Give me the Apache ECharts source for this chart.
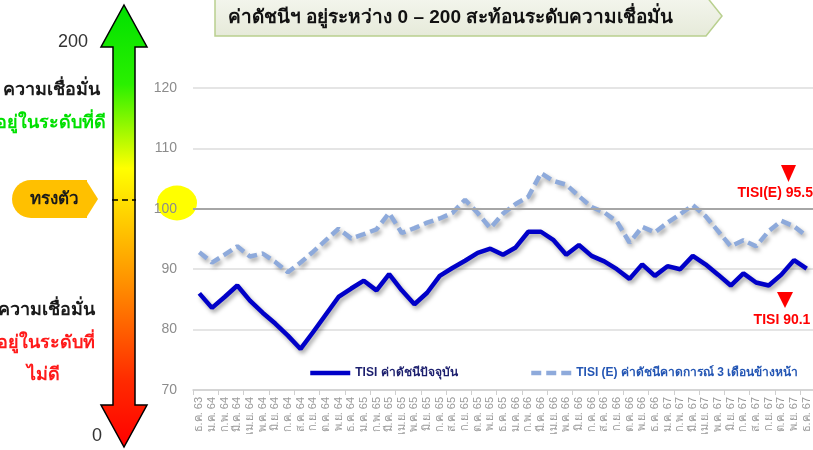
<!DOCTYPE html>
<html>
<head>
<meta charset="utf-8">
<script src="https://cdn.jsdelivr.net/npm/echarts@6/dist/echarts.min.js"></script>
<style>
  html, body { margin: 0; padding: 0; background: #fff; }
  #chart { width: 813px; height: 450px; }
</style>
</head>
<body>
<div id="chart"></div>
<script>
// แกน X : เดือน ธ.ค. 63 - ธ.ค. 67
const months = [
  'ธ.ค. 63',
  'ม.ค. 64', 'ก.พ. 64', 'มี.ค. 64', 'เม.ย. 64', 'พ.ค. 64', 'มิ.ย. 64', 'ก.ค. 64', 'ส.ค. 64', 'ก.ย. 64', 'ต.ค. 64', 'พ.ย. 64', 'ธ.ค. 64',
  'ม.ค. 65', 'ก.พ. 65', 'มี.ค. 65', 'เม.ย. 65', 'พ.ค. 65', 'มิ.ย. 65', 'ก.ค. 65', 'ส.ค. 65', 'ก.ย. 65', 'ต.ค. 65', 'พ.ย. 65', 'ธ.ค. 65',
  'ม.ค. 66', 'ก.พ. 66', 'มี.ค. 66', 'เม.ย. 66', 'พ.ค. 66', 'มิ.ย. 66', 'ก.ค. 66', 'ส.ค. 66', 'ก.ย. 66', 'ต.ค. 66', 'พ.ย. 66', 'ธ.ค. 66',
  'ม.ค. 67', 'ก.พ. 67', 'มี.ค. 67', 'เม.ย. 67', 'พ.ค. 67', 'มิ.ย. 67', 'ก.ค. 67', 'ส.ค. 67', 'ก.ย. 67', 'ต.ค. 67', 'พ.ย. 67', 'ธ.ค. 67'
];
// ดัชนีปัจจุบัน
const tisi = [
  86.0, 83.6, 85.4, 87.3, 84.8, 82.8, 81.0, 79.0, 76.8, 79.6, 82.5, 85.4,
  86.8, 88.1, 86.5, 89.2, 86.5, 84.2, 86.1, 88.9, 90.2, 91.4, 92.7, 93.4,
  92.4, 93.6, 96.2, 96.2, 94.8, 92.4, 94.0, 92.2, 91.3, 90.0, 88.4, 90.8,
  88.9, 90.5, 90.0, 92.2, 90.8, 89.1, 87.3, 89.3, 87.8, 87.3, 89.1, 91.5,
  90.1
];
// ดัชนีคาดการณ์ 3 เดือนข้างหน้า
const tisiE = [
  92.8, 91.1, 92.4, 93.8, 92.1, 92.6, 91.2, 89.5, 91.1, 92.9, 94.8, 96.7,
  95.1, 95.8, 96.6, 99.3, 96.0, 96.8, 97.7, 98.4, 99.3, 101.5, 99.3, 96.8,
  99.2, 100.8, 102.0, 105.9, 104.6, 104.0, 102.1, 100.3, 99.4, 97.9, 94.4, 97.0,
  96.1, 97.7, 99.1, 100.6, 98.8, 96.3, 93.8, 94.8, 93.8, 96.3, 98.0, 97.1,
  95.5
];
const yTicks = [70, 80, 90, 100, 110, 120];
const neutralLevel = 100;
const seriesNames = ['TISI ค่าดัชนีปัจจุบัน', 'TISI (E) ค่าดัชนีคาดการณ์ 3 เดือนข้างหน้า'];
const latestText = ['TISI 90.1', 'TISI(E) 95.5'];

const narrow = "'Liberation Sans Narrow', 'Arial Narrow', 'Liberation Sans', sans-serif";
const plain = "'Liberation Sans', Arial, sans-serif";

const chart = echarts.init(document.getElementById('chart'));

const lineShadow = {
  shadowColor: 'rgba(0,0,0,0.35)',
  shadowBlur: 4,
  shadowOffsetX: 2,
  shadowOffsetY: 3
};

const arrowFill = new echarts.graphic.LinearGradient(0, 0, 0, 1, [
  {offset: 0, color: '#00e000'},
  {offset: 0.18, color: '#2af000'},
  {offset: 0.37, color: '#ffff00'},
  {offset: 0.62, color: '#ff9400'},
  {offset: 0.85, color: '#ff2a00'},
  {offset: 1, color: '#ff0000'}
]);

// ตำแหน่ง legend สองชุดแยกกัน
const legendBase = {
  itemWidth: 40, itemHeight: 4, itemGap: 6,
  itemStyle: {opacity: 0},
  lineStyle: {width: 4.5}
};

const option = {
  backgroundColor: '#fff',
  animation: false,
  grid: {left: 193, top: 88, width: 621.5, height: 302, containLabel: false},
  legend: [
    Object.assign({}, legendBase, {
      data: [seriesNames[0]],
      left: 303, top: 362,
      textStyle: {fontFamily: narrow, fontSize: 12, fontWeight: 'bold', color: '#1c1f6e'}
    }),
    Object.assign({}, legendBase, {
      data: [seriesNames[1]],
      left: 524, top: 362,
      textStyle: {fontFamily: narrow, fontSize: 12, fontWeight: 'bold', color: '#2456b4'}
    })
  ],
  xAxis: {
    type: 'category',
    data: months,
    boundaryGap: true,
    axisLine: {lineStyle: {color: '#cfcfcf', width: 1.5}},
    axisTick: {show: true, interval: 1, length: 5, lineStyle: {color: '#cfcfcf'}},
    axisLabel: {
      interval: 0, rotate: 90, fontSize: 11, color: '#9a9a9a',
      fontFamily: plain, margin: 7
    },
    splitLine: {show: false}
  },
  yAxis: {
    type: 'value',
    min: yTicks[0],
    max: yTicks[yTicks.length - 1],
    interval: 10,
    axisLine: {show: false},
    axisTick: {show: false},
    axisLabel: {fontSize: 14, color: '#8c8c8c', fontFamily: plain, margin: 16},
    splitLine: {lineStyle: {color: '#dcdcdc', width: 1.5}}
  },
  series: [
    {
      name: seriesNames[0],
      type: 'line',
      data: tisi,
      symbol: 'none',
      z: 4,
      lineStyle: Object.assign({color: '#0000c8', width: 4.5}, lineShadow),
      itemStyle: {color: '#0000c8'},
      markLine: {
        silent: true,
        symbol: 'none',
        label: {show: false},
        lineStyle: {color: '#a6a6a6', width: 2, type: 'solid'},
        data: [{yAxis: neutralLevel}]
      }
    },
    {
      name: seriesNames[1],
      type: 'line',
      data: tisiE,
      symbol: 'none',
      z: 3,
      lineStyle: Object.assign({color: '#8eaadb', width: 4.5, type: [10, 5]}, lineShadow),
      itemStyle: {color: '#8eaadb'}
    }
  ],
  graphic: [
    // ลูกศรระดับความเชื่อมั่น
    {
      type: 'polygon',
      shape: {points: [[124, 5], [147, 47], [135, 47], [135, 405], [147, 405], [124, 447], [101, 405], [113, 405], [113, 47], [101, 47]]},
      style: {fill: arrowFill, stroke: '#000', lineWidth: 1.5}
    },
    {
      type: 'line',
      shape: {x1: 112, y1: 200, x2: 136, y2: 200},
      style: {stroke: '#000', lineWidth: 1.5, lineDash: [6, 4]}
    },
    {type: 'text', x: 88, y: 42, style: {text: '200', fontSize: 18, fill: '#333', fontFamily: plain, align: 'right', verticalAlign: 'middle'}},
    {type: 'text', x: 97, y: 436, style: {text: '0', fontSize: 18, fill: '#333', fontFamily: plain, align: 'center', verticalAlign: 'middle'}},
    {type: 'text', x: 51, y: 90, style: {text: 'ความเชื่อมั่น', fontSize: 18, fontWeight: 'bold', fill: '#1a1a1a', fontFamily: plain, align: 'center', verticalAlign: 'middle'}},
    {type: 'text', x: 51, y: 123, style: {text: 'อยู่ในระดับที่ดี', fontSize: 18, fontWeight: 'bold', fill: '#00e000', fontFamily: plain, align: 'center', verticalAlign: 'middle'}},
    {type: 'text', x: 46, y: 310, style: {text: 'ความเชื่อมั่น', fontSize: 18, fontWeight: 'bold', fill: '#1a1a1a', fontFamily: plain, align: 'center', verticalAlign: 'middle'}},
    {type: 'text', x: 46, y: 343, style: {text: 'อยู่ในระดับที่', fontSize: 18, fontWeight: 'bold', fill: '#ff1a1a', fontFamily: plain, align: 'center', verticalAlign: 'middle'}},
    {type: 'text', x: 43, y: 375, style: {text: 'ไม่ดี', fontSize: 18, fontWeight: 'bold', fill: '#ff1a1a', fontFamily: plain, align: 'center', verticalAlign: 'middle'}},
    // ป้ายทรงตัว
    {type: 'rect', shape: {x: 12, y: 180, width: 75, height: 38, r: [19, 0, 0, 19]}, style: {fill: '#ffc000'}},
    {type: 'polygon', shape: {points: [[86, 180], [98, 199], [86, 218]]}, style: {fill: '#ffc000'}},
    {type: 'text', x: 54, y: 199, style: {text: 'ทรงตัว', fontSize: 17, fontWeight: 'bold', fill: '#1a1a1a', fontFamily: plain, align: 'center', verticalAlign: 'middle'}},
    // วงกลมเน้นที่ 100
    {type: 'circle', x: 177, y: 203, scaleY: 0.87, z: -1, shape: {cx: 0, cy: 0, r: 20}, style: {fill: '#ffff00'}},
    // กล่องหัวเรื่อง
    {
      type: 'polygon',
      shape: {points: [[215, -4], [706, -4], [722, 16], [706, 36], [215, 36]]},
      style: {
        fill: new echarts.graphic.LinearGradient(0, 0, 0, 1, [
          {offset: 0, color: '#f4f6ee'},
          {offset: 1, color: '#e6ead9'}
        ]),
        stroke: '#b9d08f', lineWidth: 1.5
      }
    },
    {type: 'text', x: 228, y: 18, style: {text: 'ค่าดัชนีฯ อยู่ระหว่าง 0 – 200 สะท้อนระดับความเชื่อมั่น', fontSize: 19, fontWeight: 'bold', fill: '#111', fontFamily: plain, verticalAlign: 'middle'}},
    // ค่าล่าสุด
    {type: 'polygon', shape: {points: [[781, 165], [796, 165], [788.5, 182]]}, style: {fill: '#ff0000'}},
    {type: 'text', x: 813, y: 193, style: {text: latestText[1], fontSize: 14, fontWeight: 'bold', fill: '#ff0000', fontFamily: narrow, align: 'right', verticalAlign: 'middle'}},
    {type: 'polygon', shape: {points: [[777, 292], [793, 292], [785, 308]]}, style: {fill: '#ff0000'}},
    {type: 'text', x: 782, y: 320, style: {text: latestText[0], fontSize: 14, fontWeight: 'bold', fill: '#ff0000', fontFamily: narrow, align: 'center', verticalAlign: 'middle'}}
  ]
};

chart.setOption(option);
</script>
</body>
</html>
